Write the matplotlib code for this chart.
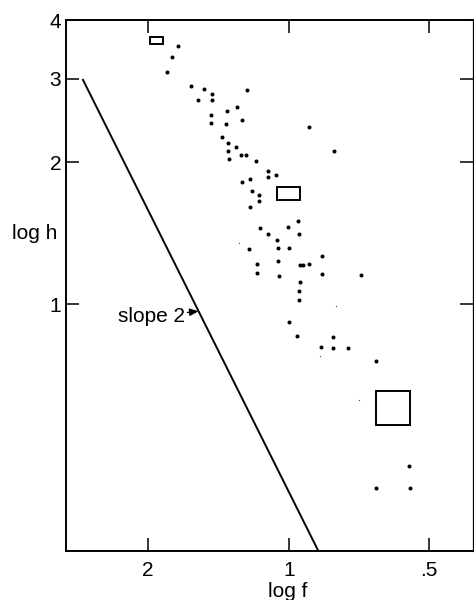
import numpy as np
import matplotlib
matplotlib.use('Agg')
import matplotlib.pyplot as plt
from matplotlib.patches import Rectangle

plt.rcParams['font.family'] = ['Liberation Sans', 'DejaVu Sans']

# dots (f, h)
f_dots = [1.729, 1.775, 1.819, 1.616, 1.517, 1.459, 1.231, 1.566, 1.462, 1.469,
          1.359, 1.291, 1.260, 1.464, 1.361, 1.393, 1.348, 1.300, 1.348, 1.344,
          1.264, 1.233, 1.177, 1.109, 1.106, 1.063, 1.257, 1.208, 1.199, 1.158,
          1.158, 1.211, 0.955, 1.005, 1.150, 0.952, 1.108, 1.060, 1.219, 1.054,
          1.001, 0.848, 1.167, 1.054, 0.947, 0.934, 0.903, 1.167, 1.049, 0.849,
          0.700, 0.946, 0.950, 0.950, 1.000, 0.960, 0.803, 0.851, 0.803, 0.747,
          0.651, 0.552, 0.649, 0.551, 0.903, 0.798]
h_dots = [3.526, 3.341, 3.106, 2.892, 2.858, 2.782, 2.844, 2.714, 2.705, 2.518,
          2.560, 2.615, 2.458, 2.418, 2.406, 2.259, 2.196, 2.154, 2.112, 2.032,
          2.069, 2.069, 2.009, 1.916, 1.861, 1.874, 1.816, 1.840, 1.733, 1.704,
          1.653, 1.605, 1.499, 1.456, 1.447, 1.407, 1.407, 1.365, 1.312, 1.314,
          1.316, 1.268, 1.214, 1.232, 1.208, 1.208, 1.214, 1.167, 1.148, 1.159,
          1.154, 1.112, 1.069, 1.020, 0.915, 0.857, 0.854, 0.810, 0.806, 0.808,
          0.757, 0.455, 0.407, 0.407, 2.375, 2.112]

# faint specks
f_specks = [1.279, 0.793, 0.857, 0.708]
h_specks = [1.351, 0.989, 0.777, 0.628]

# open boxes: f range, h range
box_f0 = [1.982, 1.060, 0.651]
box_f1 = [1.855, 0.947, 0.551]
box_h0 = [3.555, 1.661, 0.555]
box_h1 = [3.679, 1.769, 0.656]

# slope 2 reference line
line_f = [2.765, 0.864]
line_h = [3.0, 0.3]

xticks = [2, 1, 0.5]
xticklabels = ['2', '1', '.5']
yticks = [1, 2, 3, 4]
yticklabels = ['1', '2', '3', '4']

fig = plt.figure(figsize=(4.74, 6.0), dpi=100)
ax = fig.add_axes([66/474, 49/600, 407/474, 531/600])
ax.set_xscale('log')
ax.set_yscale('log')

ax.plot(f_dots, h_dots, 'o', color='black', ms=2.9, mew=0)
ax.plot(f_specks, h_specks, 'o', color='#555555', ms=1.0, mew=0)
for i in range(len(box_f0)):
    ax.add_patch(Rectangle((box_f1[i], box_h0[i]), box_f0[i] - box_f1[i],
                           box_h1[i] - box_h0[i], fill=False,
                           edgecolor='black', lw=1.4))
ax.plot(line_f, line_h, color='black', lw=1.4, solid_capstyle='butt')

ax.annotate('slope 2', xy=(1.561, 0.966), xytext=(-10, -3.5),
            textcoords='offset points', ha='right', va='center', fontsize=15,
            arrowprops=dict(arrowstyle='-|>,head_length=0.35,head_width=0.15',
                            color='black', lw=0.9, shrinkA=0, shrinkB=0))

ax.set_xlim(3.0, 0.403)
ax.set_ylim(0.3, 4.0)
ax.minorticks_off()
ax.set_xticks(xticks)
ax.set_xticklabels(xticklabels)
ax.set_yticks(yticks)
ax.set_yticklabels(yticklabels)
ax.tick_params(which='both', direction='in', length=9.5, width=1.1,
               top=True, right=True, labelsize=15, color='black')
ax.tick_params(axis='y', pad=3.5)
ax.tick_params(axis='x', pad=7)
ax.minorticks_off()
for s in ax.spines.values():
    s.set_linewidth(1.4)
ax.spines['right'].set_linewidth(0.9)

ax.set_xlabel('log f', fontsize=15)
ax.xaxis.set_label_coords(0.545, -0.058)
ax.set_ylabel('log h', fontsize=15, rotation=0, ha='right', va='center')
ax.yaxis.set_label_coords(-0.02, 0.598)

fig.savefig('out.png', dpi=100)
